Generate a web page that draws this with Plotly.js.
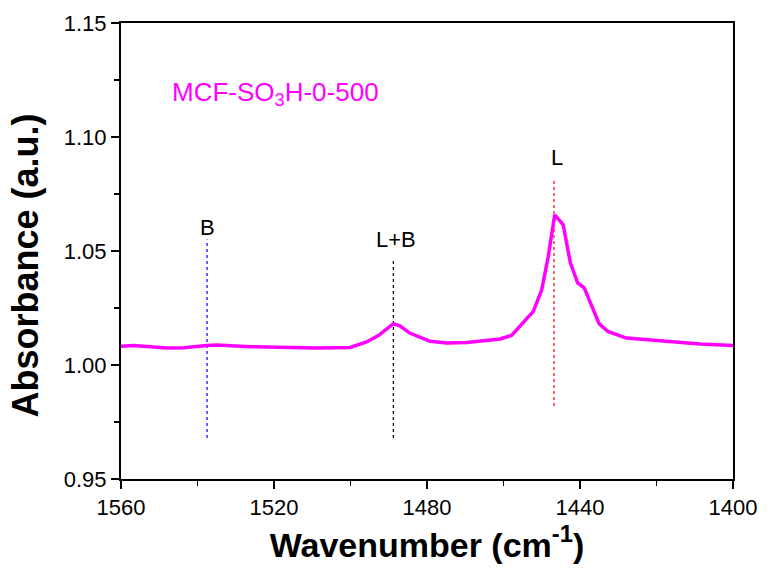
<!DOCTYPE html>
<html>
<head>
<meta charset="utf-8">
<script src="https://cdn.plot.ly/plotly-3.0.1.min.js"></script>
<style>
  html, body { margin: 0; padding: 0; background: #fff; }
  #chart { width: 771px; height: 568px; }
</style>
</head>
<body>
<div id="chart"></div>
<script>
// FTIR spectrum of adsorbed pyridine, MCF-SO3H-0-500
const wavenumber = [1560, 1556.7, 1548, 1543.6, 1537.5, 1534.9, 1526.2, 1517.5, 1508.8, 1500.1,
  1498.4, 1495.8, 1492.7, 1488.8, 1487.1, 1484.5, 1479.2, 1474.9, 1469.6, 1460.9,
  1457.9, 1455.7, 1452.2, 1450.0, 1448.3, 1446.6, 1444.4, 1442.5, 1440.6, 1438.9,
  1437.0, 1435.0, 1432.7, 1427.9, 1417.4, 1408.7, 1400];
const absorbance = [1.0082, 1.0085, 1.0075, 1.0076, 1.0086, 1.0088, 1.0080, 1.0076, 1.0075, 1.0077,
  1.0085, 1.0101, 1.0129, 1.0181, 1.0172, 1.0140, 1.0104, 1.0096, 1.0099, 1.0114,
  1.0130, 1.0169, 1.0235, 1.0330, 1.0476, 1.0659, 1.0615, 1.0447, 1.0360, 1.0338,
  1.0264, 1.0181, 1.0147, 1.0118, 1.0104, 1.0092, 1.0085];

// Band markers: Brønsted, Lewis+Brønsted, Lewis
const bandNames = ['B', 'L+B', 'L'];
const bandPos = [1537.5, 1488.8, 1446.8];
const bandTop = [1.055, 1.046, 1.0816];
const bandBottom = [0.968, 0.968, 0.982];
const bandColors = ['#0000ff', '#000000', '#ff0000'];
const bandLabelX = [1537.5, 1488.1, 1445.9];
const bandLabelY = [1.0602, 1.055, 1.0909];

const sampleName = 'MCF-SO<sub>3</sub>H-0-500';
const xTitle = 'Wavenumber (cm<sup>-1</sup>)';
const yTitle = 'Absorbance (a.u.)';

const xRange = [1560, 1400];
const yRange = [0.95, 1.15];
const xTicks = [1560, 1520, 1480, 1440, 1400];
const yTicks = [0.95, 1.00, 1.05, 1.10, 1.15];

const FONT = 'Arial, "Liberation Sans", sans-serif';

const traces = bandNames.map((n, i) => ({
  x: [bandPos[i], bandPos[i]],
  y: [bandBottom[i], bandTop[i]],
  mode: 'lines',
  line: { color: bandColors[i], width: 1.2, dash: 'dot' },
  hoverinfo: 'skip',
  showlegend: false
}));

traces.push({
  x: wavenumber,
  y: absorbance,
  mode: 'lines',
  line: { color: '#ff00ff', width: 3.5 },
  showlegend: false
});

const annotations = bandNames.map((n, i) => ({
  x: bandLabelX[i], y: bandLabelY[i], xref: 'x', yref: 'y',
  text: n, showarrow: false,
  font: { family: FONT, size: 22, color: '#000' },
  xanchor: 'center', yanchor: 'middle'
}));

annotations.push({
  x: 1547.2, y: 1.119, xref: 'x', yref: 'y',
  text: sampleName, showarrow: false,
  font: { family: FONT, size: 26, color: '#ff00ff' },
  xanchor: 'left', yanchor: 'middle'
});

// vertical axis title, placed left of the tick labels
annotations.push({
  x: -0.156, y: 0.467, xref: 'paper', yref: 'paper',
  text: yTitle, textangle: -90, showarrow: false,
  font: { family: FONT, size: 36, color: '#000', weight: 'bold' },
  xanchor: 'center', yanchor: 'middle'
});

const layout = {
  width: 771, height: 568,
  margin: { l: 121, r: 38, t: 23, b: 89 },
  paper_bgcolor: '#fff', plot_bgcolor: '#fff',
  font: { family: FONT, color: '#000' },
  xaxis: {
    range: xRange, tickvals: xTicks, ticktext: xTicks.map(String),
    showgrid: false, zeroline: false,
    showline: true, linecolor: '#000', linewidth: 2, mirror: true,
    ticks: 'outside', ticklen: 8, tickwidth: 1.5, tickcolor: '#000',
    minor: { dtick: 20, tick0: 1400, ticks: 'outside', ticklen: 5, tickwidth: 1.5, tickcolor: '#000', showgrid: false },
    tickfont: { family: FONT, size: 22, color: '#000' },
    title: { text: xTitle, font: { family: FONT, size: 34, color: '#000', weight: 'bold' }, standoff: 4 }
  },
  yaxis: {
    range: yRange, tickvals: yTicks, ticktext: yTicks.map(v => v.toFixed(2)),
    showgrid: false, zeroline: false,
    showline: true, linecolor: '#000', linewidth: 2, mirror: true,
    ticks: 'outside', ticklen: 8, tickwidth: 1.5, tickcolor: '#000',
    minor: { dtick: 0.025, tick0: 0.95, ticks: 'outside', ticklen: 5, tickwidth: 1.5, tickcolor: '#000', showgrid: false },
    tickfont: { family: FONT, size: 22, color: '#000' }
  },
  // inward ticks on the top and right frame
  xaxis2: {
    overlaying: 'x', anchor: 'y', side: 'top', range: xRange,
    dtick: 20, tick0: 1400, ticks: 'inside', ticklen: 5, tickwidth: 1.5, tickcolor: '#000',
    showticklabels: false, showgrid: false, zeroline: false, showline: false
  },
  yaxis2: {
    overlaying: 'y', anchor: 'x', side: 'right', range: yRange,
    dtick: 0.025, tick0: 0.95, ticks: 'inside', ticklen: 5, tickwidth: 1.5, tickcolor: '#000',
    showticklabels: false, showgrid: false, zeroline: false, showline: false
  },
  annotations: annotations,
  showlegend: false
};

Plotly.newPlot('chart', traces, layout, { displayModeBar: false, staticPlot: true });
</script>
</body>
</html>
